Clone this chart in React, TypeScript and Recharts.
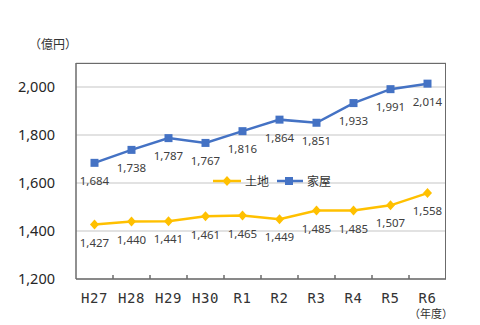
import { LineChart, Line, XAxis, YAxis, CartesianGrid, LabelList } from 'recharts';

const years = ['H27', 'H28', 'H29', 'H30', 'R1', 'R2', 'R3', 'R4', 'R5', 'R6'];
const land = [1427, 1440, 1441, 1461, 1465, 1449, 1485, 1485, 1507, 1558];
const house = [1684, 1738, 1787, 1767, 1816, 1864, 1851, 1933, 1991, 2014];
const yTicks = [1200, 1400, 1600, 1800, 2000];

const LAND = '#FFC000';
const HOUSE = '#4472C4';
const BORDER = '#6b6b6b';

const data = years.map((y, i) => ({ year: y, land: land[i], house: house[i] }));

const fmt = (v: number) => v.toLocaleString('en-US');

const Diamond = (props: any) => {
  const { cx, cy } = props;
  if (cx == null || cy == null) return null;
  return <path d={`M${cx},${cy - 5} L${cx + 4.5},${cy} L${cx},${cy + 5} L${cx - 4.5},${cy} Z`} fill={LAND} />;
};

const Square = (props: any) => {
  const { cx, cy } = props;
  if (cx == null || cy == null) return null;
  return <rect x={cx - 4} y={cy - 4} width={8} height={8} fill={HOUSE} />;
};

// category label plus a small inward tick at the right edge of each band
const XTick = (props: any) => {
  const { x, y, payload } = props;
  const idx = years.indexOf(payload.value);
  const half = Number(payload?.offset) || 18.5;
  const bx = Number(x) + half;
  const by = Number(y);
  return (
    <g>
      {idx < years.length - 1 && (
        <path d={`M${bx},${by} L${bx},${by - 4}`} stroke={BORDER} strokeWidth={1.5} />
      )}
      <text x={x} y={by + 24} textAnchor="middle" fill="#333" fontSize={14}
        fontFamily="'DejaVu Sans Mono', monospace" letterSpacing={0.5}>
        {payload.value}
      </text>
    </g>
  );
};

const LegendBox = () => (
  <svg width={130} height={16} style={{ display: 'block' }}>
    <line x1={1} x2={29} y1={8} y2={8} stroke={LAND} strokeWidth={2.5} />
    <path d="M15,3 L19.5,8 L15,13 L10.5,8 Z" fill={LAND} />
    <text x={33} y={12.5} fontSize={12} fill="#333" fontFamily="'Noto Sans CJK JP', sans-serif">土地</text>
    <line x1={65} x2={91} y1={8} y2={8} stroke={HOUSE} strokeWidth={2.5} />
    <rect x={73} y={4} width={8} height={8} fill={HOUSE} />
    <text x={95} y={12.5} fontSize={12} fill="#333" fontFamily="'Noto Sans CJK JP', sans-serif">家屋</text>
  </svg>
);

const labelStyle = { fontSize: 11.5, fill: '#404040', fontFamily: "'Noto Sans', sans-serif" };

export default function App() {
  return (
    <div style={{ position: 'absolute', left: 0, top: 0, width: 480, height: 325, background: '#fff' }}>
      <div style={{ position: 'absolute', left: 29, top: 35, fontSize: 12, color: '#333', fontFamily: "'Noto Sans CJK JP', sans-serif" }}>
        （億円）
      </div>
      <div style={{ position: 'absolute', left: 409, top: 305, fontSize: 11, color: '#333', fontFamily: "'Noto Sans CJK JP', sans-serif" }}>
        （年度）
      </div>
      <LineChart width={480} height={325} data={data} margin={{ top: 63, right: 34, bottom: 0, left: 0 }}>
        <CartesianGrid vertical={false} stroke="#d9d9d9" strokeWidth={1.5} />
        <XAxis dataKey="year" scale="band" height={46} tickLine={false} tickSize={0} tickMargin={0}
          axisLine={{ stroke: BORDER, strokeWidth: 1.5 }} tick={<XTick />} interval={0} />
        <YAxis domain={[1200, 2100]} ticks={yTicks} width={76} tickLine={false} tickSize={0} tickMargin={21}
          tickFormatter={fmt} axisLine={{ stroke: BORDER, strokeWidth: 1.5 }}
          tick={{ fontSize: 14.5, fill: '#262626', fontFamily: "'Noto Sans', sans-serif" }} />
        <Line type="linear" dataKey="land" name="土地" stroke={LAND} strokeWidth={2.5} dot={<Diamond />}
          activeDot={false} isAnimationActive={false}>
          <LabelList dataKey="land" position="bottom" offset={14} formatter={fmt} style={labelStyle} />
        </Line>
        <Line type="linear" dataKey="house" name="家屋" stroke={HOUSE} strokeWidth={2.5} dot={<Square />}
          activeDot={false} isAnimationActive={false}>
          <LabelList dataKey="house" position="bottom" offset={14} formatter={fmt} style={labelStyle} />
        </Line>
      </LineChart>
      <div style={{ position: 'absolute', left: 76, top: 63, width: 370, height: 216, boxSizing: 'border-box',
        borderTop: `1.5px solid ${BORDER}`, borderRight: `1.5px solid ${BORDER}`, pointerEvents: 'none' }} />
      <div style={{ position: 'absolute', left: 212, top: 173 }}>
        <LegendBox />
      </div>
    </div>
  );
}
